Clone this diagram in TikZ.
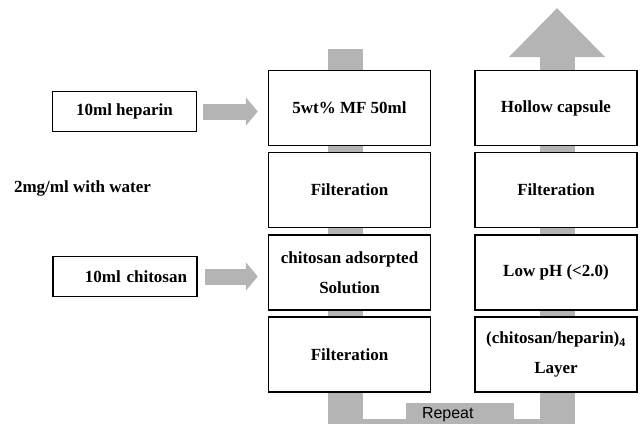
\documentclass[tikz,border=0pt]{standalone}
\usepackage{fontspec}
\setmainfont{Liberation Serif}
\newfontfamily\repeatfont{Liberation Sans}
\usetikzlibrary{arrows.meta,backgrounds}
\definecolor{flowgrey}{RGB}{180,180,180}

\begin{document}
\begin{tikzpicture}[x=1pt, y=-1pt,
    box/.style={rectangle, draw=black, line width=1.5pt, fill=white,
        minimum width=162pt, minimum height=75pt, inner sep=2pt, align=center,
        font=\fontsize{17}{30}\selectfont\bfseries},
    inbox/.style={rectangle, draw=black, line width=1.5pt, fill=white,
        minimum width=144pt, minimum height=40pt, font=\fontsize{17}{20}\selectfont\bfseries},
    feed/.style={-{Triangle[length=12pt, width=28pt]}, line width=16pt, flowgrey},
    repeatflow/.style={-{Triangle[length=49pt, width=93pt]}, line width=35pt, flowgrey, line join=miter}
]
    \useasboundingbox (0,0) rectangle (642,423);

    % left column
    \node[box] (mf) at (349.5,108) {5wt\% MF 50ml};
    \node[box] (filt1) at (349.5,190) {Filteration};
    \node[box] (adsorb) at (349.5,272.5) {chitosan adsorpted\\Solution};
    \node[box] (filt2) at (349.5,354.5) {Filteration};

    % right column
    \node[box] (capsule) at (556,108) {Hollow capsule};
    \node[box] (filt3) at (556,190) {Filteration};
    \node[box] (lowph) at (556,272.5) {Low pH (<2.0)};
    \node[box] (layer) at (556,354.5) {(chitosan/heparin)\textsubscript{4}\\Layer};

    % inputs
    \node[inbox] (heparin) at (124.5,111.5) {10ml heparin};
    \node[font=\fontsize{17}{20}\selectfont\bfseries] (water) at (82.5,188) {2mg/ml with water};
    \node[inbox, text width=124pt, align=right, inner xsep=10pt] (chitosan) at (125,276.5) {10ml chitosan};

    \draw[feed] ([xshift=6pt]heparin.east) -- ([xshift=-10pt]mf.west |- heparin.east);
    \draw[feed] ([xshift=7pt]chitosan.east) -- ([xshift=-10pt]adsorb.west |- chitosan.east);

    % repeat loop
    \coordinate (loopstart) at (345,49);
    \coordinate (lowleft) at (345,436);
    \coordinate (lowright) at (557,436);
    \coordinate (loopend) at (557,8);
    \node[fill=flowgrey, minimum width=108pt, minimum height=24pt, text width=76pt,
        inner xsep=16pt, align=left, font=\repeatfont\fontsize{16}{19}\selectfont] (repeat) at (460,415) {Repeat};
    \begin{scope}[on background layer]
        \draw[repeatflow] (loopstart) -- (lowleft) -- (lowright) -- (loopend);
    \end{scope}
\end{tikzpicture}
\end{document}
